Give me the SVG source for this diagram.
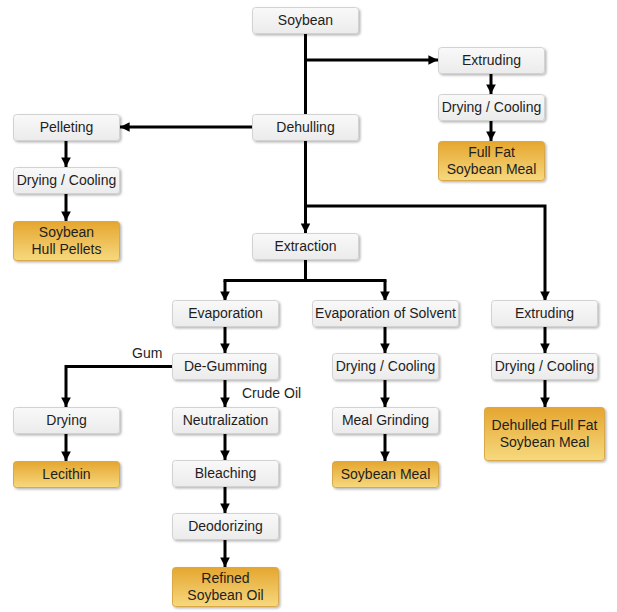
<svg xmlns="http://www.w3.org/2000/svg" width="617" height="612" viewBox="0 0 617 612">
<defs>
<linearGradient id="gGray" x1="0" y1="0" x2="0" y2="1">
<stop offset="0" stop-color="#f9f9f9"/>
<stop offset="1" stop-color="#ebebeb"/>
</linearGradient>
<linearGradient id="gOrange" x1="0" y1="0" x2="0" y2="1">
<stop offset="0" stop-color="#e5a630"/>
<stop offset="1" stop-color="#f6d97e"/>
</linearGradient>
<filter id="sh" x="-10%" y="-20%" width="125%" height="150%">
<feDropShadow dx="1.5" dy="1.5" stdDeviation="1.2" flood-color="#000" flood-opacity="0.28"/>
</filter>
<marker id="arr" viewBox="0 0 10 10" refX="10" refY="5" markerWidth="3.2" markerHeight="3.2" markerUnits="strokeWidth" orient="auto">
<path d="M0,0 L10,5 L0,10 z" fill="#000"/>
</marker>
</defs>
<style>
.n rect{fill:url(#gGray);stroke:#d2d2d2;stroke-width:1;filter:url(#sh)}
.o rect{fill:url(#gOrange);stroke:#d9a84a;stroke-width:1;filter:url(#sh)}
text{font-family:"Liberation Sans",Arial,sans-serif;font-size:14px;fill:#1e1e1e;text-anchor:middle}
.lbl{text-anchor:start}
#connectors path{fill:none;stroke:#000;stroke-width:3}
.a{marker-end:url(#arr)}
</style>
<g id="connectors">
<path d="M305.5,33 V114"/>
<path class="a" d="M305.5,60 H438"/>
<path class="a" d="M491,73 V94"/>
<path class="a" d="M491,120 V141"/>
<path class="a" d="M252,127 H120"/>
<path class="a" d="M66,140 V167"/>
<path class="a" d="M66,193 V221"/>
<path class="a" d="M305.5,140 V233"/>
<path class="a" d="M305.5,206 H545 V301"/>
<path d="M305.5,259 V280.5"/>
<path class="a" d="M225,280.5 V301"/>
<path class="a" d="M385,280.5 V301"/>
<path d="M223.5,280.5 H386.5"/>
<path class="a" d="M225,326 V353"/>
<path class="a" d="M225,379 V407"/>
<path class="a" d="M172,366.5 H66 V407"/>
<path class="a" d="M66,433 V461"/>
<path class="a" d="M225,433 V460"/>
<path class="a" d="M225,486 V513"/>
<path class="a" d="M225,539 V567"/>
<path class="a" d="M385,326 V353"/>
<path class="a" d="M385,379 V407"/>
<path class="a" d="M385,433 V461"/>
<path class="a" d="M545,326 V353"/>
<path class="a" d="M545,379 V407"/>
<text class="lbl" x="132" y="358">Gum</text>
<text class="lbl" x="242" y="398">Crude Oil</text>
</g>
<g id="soybean" class="n"><rect x="252.5" y="7.5" width="106" height="26" rx="3"/><text x="305.5" y="25">Soybean</text></g>
<g id="extruding1" class="n"><rect x="438.5" y="47.5" width="106" height="26" rx="3"/><text x="491.5" y="65">Extruding</text></g>
<g id="drying1" class="n"><rect x="438.5" y="94.5" width="106" height="26" rx="3"/><text x="491.5" y="112">Drying / Cooling</text></g>
<g id="fullfat" class="o"><rect x="438.5" y="141.5" width="106" height="39" rx="3"/><text x="491.5" y="157">Full Fat</text><text x="491.5" y="174">Soybean Meal</text></g>
<g id="dehulling" class="n"><rect x="252.5" y="114.5" width="106" height="26" rx="3"/><text x="305.5" y="132">Dehulling</text></g>
<g id="pelleting" class="n"><rect x="13.5" y="114.5" width="106" height="26" rx="3"/><text x="66.5" y="132">Pelleting</text></g>
<g id="drying2" class="n"><rect x="13.5" y="167.5" width="106" height="26" rx="3"/><text x="66.5" y="185">Drying / Cooling</text></g>
<g id="hullpellets" class="o"><rect x="13.5" y="221.5" width="106" height="39" rx="3"/><text x="66.5" y="237">Soybean</text><text x="66.5" y="254">Hull Pellets</text></g>
<g id="extraction" class="n"><rect x="252.5" y="233.5" width="106" height="26" rx="3"/><text x="305.5" y="251">Extraction</text></g>
<g id="evaporation" class="n"><rect x="172.5" y="300.5" width="106" height="26" rx="3"/><text x="225.5" y="318">Evaporation</text></g>
<g id="evapsolvent" class="n"><rect x="312.5" y="300.5" width="146" height="26" rx="3"/><text x="385.5" y="318">Evaporation of Solvent</text></g>
<g id="extruding2" class="n"><rect x="491.5" y="300.5" width="106" height="26" rx="3"/><text x="544.5" y="318">Extruding</text></g>
<g id="degumming" class="n"><rect x="172.5" y="353.5" width="106" height="26" rx="3"/><text x="225.5" y="371">De-Gumming</text></g>
<g id="drying3" class="n"><rect x="332.5" y="353.5" width="106" height="26" rx="3"/><text x="385.5" y="371">Drying / Cooling</text></g>
<g id="drying4" class="n"><rect x="491.5" y="353.5" width="106" height="26" rx="3"/><text x="544.5" y="371">Drying / Cooling</text></g>
<g id="drying5" class="n"><rect x="13.5" y="407.5" width="106" height="26" rx="3"/><text x="66.5" y="425">Drying</text></g>
<g id="neutralization" class="n"><rect x="172.5" y="407.5" width="106" height="26" rx="3"/><text x="225.5" y="425">Neutralization</text></g>
<g id="mealgrinding" class="n"><rect x="332.5" y="407.5" width="106" height="26" rx="3"/><text x="385.5" y="425">Meal Grinding</text></g>
<g id="dehulledmeal" class="o"><rect x="484.5" y="407.5" width="120" height="53" rx="3"/><text x="544.5" y="430">Dehulled Full Fat</text><text x="544.5" y="447">Soybean Meal</text></g>
<g id="lecithin" class="o"><rect x="13.5" y="461.5" width="106" height="26" rx="3"/><text x="66.5" y="479">Lecithin</text></g>
<g id="bleaching" class="n"><rect x="172.5" y="460.5" width="106" height="26" rx="3"/><text x="225.5" y="478">Bleaching</text></g>
<g id="soybeanmeal" class="o"><rect x="332.5" y="461.5" width="106" height="26" rx="3"/><text x="385.5" y="479">Soybean Meal</text></g>
<g id="deodorizing" class="n"><rect x="172.5" y="513.5" width="106" height="26" rx="3"/><text x="225.5" y="531">Deodorizing</text></g>
<g id="refinedoil" class="o"><rect x="172.5" y="567.5" width="106" height="39" rx="3"/><text x="225.5" y="583">Refined</text><text x="225.5" y="600">Soybean Oil</text></g>
</svg>
